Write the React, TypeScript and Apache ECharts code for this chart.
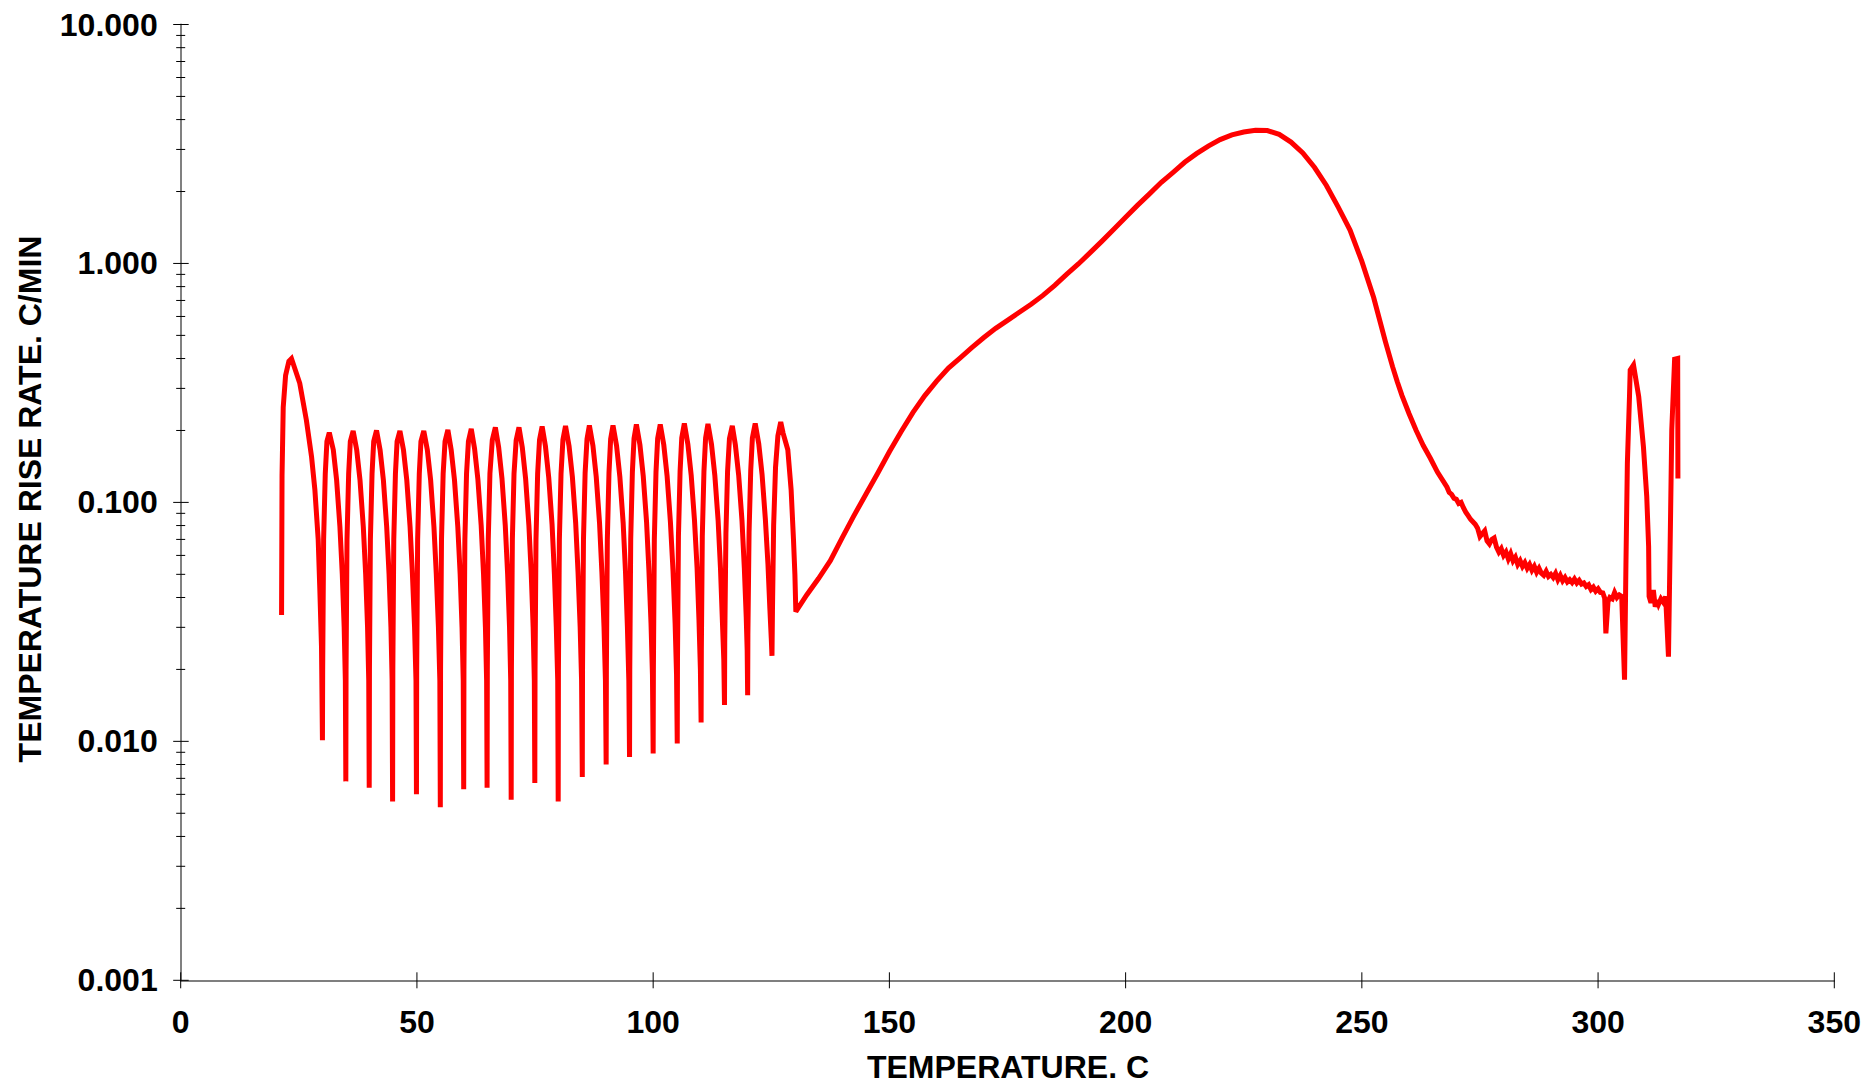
import React, { useEffect, useRef } from "react";
import * as echarts from "echarts";

// ---------- data (temperature °C, rise rate °C/min) ----------
const firstCycle: [number, number][] = [
  [21.35, 0.0338], [21.45, 0.13], [21.7, 0.25], [22.2, 0.34], [22.9, 0.39], [23.45, 0.4],
  [25.2, 0.315], [26.6, 0.221], [27.7, 0.155], [28.4, 0.113], [29.1, 0.07], [29.45, 0.043], [29.8, 0.025],
];

const hwsCycles: [number, number][] = [
  [30.0, 0.0101], [30.05, 0.02], [30.25, 0.07], [30.6, 0.132], [30.95, 0.18], [31.45, 0.196], [32.3, 0.166], [33.0, 0.124], [33.7, 0.079], [34.2, 0.05], [34.6, 0.03], [34.85, 0.018],
  [34.95, 0.0068], [35.0, 0.02], [35.2, 0.07], [35.55, 0.132], [35.9, 0.18], [36.5, 0.199], [37.25, 0.166], [37.95, 0.124], [38.65, 0.079], [39.15, 0.05], [39.55, 0.03], [39.8, 0.018],
  [39.9, 0.0064], [39.95, 0.02], [40.15, 0.07], [40.5, 0.132], [40.85, 0.18], [41.45, 0.2], [42.2, 0.166], [42.9, 0.124], [43.6, 0.079], [44.1, 0.05], [44.5, 0.03], [44.75, 0.018],
  [44.85, 0.0056], [44.9, 0.02], [45.1, 0.07], [45.45, 0.132], [45.8, 0.18], [46.4, 0.199], [47.15, 0.166], [47.85, 0.124], [48.55, 0.079], [49.05, 0.05], [49.5, 0.03], [49.8, 0.018],
  [49.9, 0.006], [49.95, 0.02], [50.15, 0.07], [50.5, 0.132], [50.85, 0.18], [51.45, 0.199], [52.2, 0.166], [52.9, 0.124], [53.6, 0.079], [54.1, 0.05], [54.55, 0.03], [54.85, 0.018],
  [54.95, 0.0053], [55.0, 0.02], [55.2, 0.07], [55.55, 0.132], [55.95, 0.18], [56.55, 0.201], [57.25, 0.166], [57.95, 0.124], [58.65, 0.079], [59.15, 0.05], [59.55, 0.03], [59.8, 0.018],
  [59.9, 0.0063], [59.95, 0.02], [60.15, 0.07], [60.5, 0.132], [60.9, 0.18], [61.5, 0.203], [62.2, 0.168], [62.9, 0.125], [63.6, 0.08], [64.1, 0.05], [64.5, 0.03], [64.75, 0.018],
  [64.85, 0.0064], [64.9, 0.02], [65.1, 0.07], [65.45, 0.132], [65.95, 0.182], [66.6, 0.206], [67.3, 0.17], [68.0, 0.126], [68.7, 0.08], [69.2, 0.05], [69.6, 0.03], [69.85, 0.018],
  [69.95, 0.0057], [70.0, 0.02], [70.2, 0.07], [70.55, 0.132], [71.0, 0.182], [71.6, 0.206], [72.3, 0.17], [73.0, 0.126], [73.7, 0.08], [74.2, 0.05], [74.6, 0.03], [74.85, 0.018],
  [74.95, 0.0067], [75.0, 0.02], [75.2, 0.07], [75.55, 0.132], [75.95, 0.183], [76.5, 0.208], [77.2, 0.172], [77.9, 0.127], [78.6, 0.081], [79.1, 0.05], [79.5, 0.03], [79.8, 0.018],
  [79.9, 0.0056], [79.95, 0.02], [80.15, 0.07], [80.5, 0.132], [80.9, 0.183], [81.45, 0.209], [82.2, 0.172], [82.9, 0.128], [83.6, 0.082], [84.1, 0.051], [84.55, 0.03], [84.85, 0.018],
  [85.0, 0.0071], [85.05, 0.02], [85.25, 0.07], [85.6, 0.133], [86.0, 0.184], [86.5, 0.21], [87.25, 0.173], [87.95, 0.128], [88.65, 0.082], [89.15, 0.051], [89.6, 0.03], [89.9, 0.018],
  [90.05, 0.008], [90.1, 0.02], [90.3, 0.07], [90.65, 0.133], [91.0, 0.184], [91.5, 0.21], [92.25, 0.173], [92.95, 0.128], [93.65, 0.082], [94.15, 0.051], [94.55, 0.03], [94.85, 0.018],
  [95.0, 0.0086], [95.05, 0.02], [95.25, 0.07], [95.6, 0.134], [95.95, 0.185], [96.45, 0.212], [97.2, 0.174], [97.9, 0.129], [98.6, 0.083], [99.1, 0.052], [99.55, 0.031], [99.85, 0.019],
  [100.0, 0.0089], [100.05, 0.02], [100.25, 0.07], [100.6, 0.134], [100.95, 0.185], [101.5, 0.212], [102.25, 0.174], [102.95, 0.129], [103.65, 0.083], [104.2, 0.052], [104.65, 0.031], [104.95, 0.019],
  [105.1, 0.0098], [105.15, 0.022], [105.35, 0.072], [105.7, 0.135], [106.05, 0.186], [106.6, 0.214], [107.35, 0.175], [108.05, 0.13], [108.75, 0.084], [109.3, 0.053], [109.7, 0.032], [110.0, 0.02],
  [110.15, 0.012], [110.2, 0.024], [110.4, 0.072], [110.75, 0.135], [111.1, 0.186], [111.6, 0.213], [112.35, 0.175], [113.05, 0.13], [113.75, 0.084], [114.25, 0.053], [114.65, 0.032], [114.95, 0.022],
  [115.1, 0.0142], [115.15, 0.026], [115.4, 0.074], [115.75, 0.135], [116.15, 0.185], [116.75, 0.209], [117.4, 0.174], [118.1, 0.13], [118.8, 0.084], [119.3, 0.053], [119.7, 0.033], [119.9, 0.024],
  [120.0, 0.0156], [120.05, 0.028], [120.3, 0.075], [120.65, 0.136], [121.0, 0.186], [121.6, 0.214], [122.35, 0.176], [123.05, 0.131], [123.75, 0.085], [124.3, 0.055], [124.7, 0.036], [125.0, 0.027],
  [125.15, 0.0228], [125.25, 0.035], [125.5, 0.08], [125.9, 0.14], [126.4, 0.19], [127.0, 0.217], [127.5, 0.195], [128.5, 0.166], [129.2, 0.113], [129.7, 0.07], [130.0, 0.05], [130.2, 0.0349],
];

const exothermData: [number, number][] = [
  [132.5, 0.041], [135, 0.048], [137.5, 0.057], [140, 0.071], [142.5, 0.088], [145, 0.108], [147.5, 0.132],
  [150, 0.163], [152.5, 0.198], [155, 0.238], [157.5, 0.28], [160, 0.322], [162.5, 0.365], [165, 0.403],
  [167.5, 0.445], [170, 0.49], [172.5, 0.535], [175, 0.578], [177.5, 0.625], [180, 0.675], [182.5, 0.735],
  [185, 0.81], [187.5, 0.9], [190, 0.995], [192.5, 1.11], [195, 1.24], [197.5, 1.39], [200, 1.56],
  [202.5, 1.75], [205, 1.95], [207.5, 2.18], [210, 2.4], [212.5, 2.65], [215, 2.88], [217.5, 3.1],
  [220, 3.3], [222.5, 3.45], [225, 3.55], [227.5, 3.61], [230, 3.6], [232.5, 3.47], [235, 3.22],
  [237.5, 2.9], [240, 2.52], [242.5, 2.12], [245, 1.72], [247.5, 1.38], [250, 1.02], [252.5, 0.72],
  [255, 0.47], [256.5, 0.37], [257.5, 0.32], [258.5, 0.28], [260, 0.235], [261.5, 0.2], [263, 0.173],
  [264.5, 0.153], [266, 0.134],
];

const tailData: [number, number][] = [
  [268.0, 0.116], [268.5, 0.11], [269.0, 0.108], [269.5, 0.104], [270.0, 0.103], [270.5, 0.099], [271.0, 0.1],
  [271.5, 0.095], [272.0, 0.091], [272.5, 0.088], [273.0, 0.085], [273.5, 0.083], [274.0, 0.081], [274.5, 0.078],
  [275.0, 0.072], [275.5, 0.074], [276.0, 0.076], [276.5, 0.069], [277.0, 0.067], [277.5, 0.07], [278.0, 0.071],
  [278.5, 0.065], [279.0, 0.062], [279.5, 0.064], [280.0, 0.06], [280.5, 0.062], [281.0, 0.058], [281.5, 0.061],
  [282.0, 0.057], [282.5, 0.059], [283.0, 0.055], [283.5, 0.057], [284.0, 0.054], [284.5, 0.056], [285.0, 0.053],
  [285.5, 0.055], [286.0, 0.052], [286.5, 0.054], [287.0, 0.051], [287.5, 0.053], [288.0, 0.0505], [288.5, 0.0495],
  [289.0, 0.0515], [289.5, 0.049], [290.0, 0.05], [290.5, 0.0485], [291.0, 0.0505], [291.5, 0.0475], [292.0, 0.0495],
  [292.5, 0.047], [293.0, 0.0485], [293.5, 0.0465], [294.0, 0.0475], [294.5, 0.0462], [295.0, 0.0478], [295.5, 0.046],
  [296.0, 0.0472], [296.5, 0.0455], [297.0, 0.046], [297.5, 0.0445], [298.0, 0.0452], [298.5, 0.0432], [299.0, 0.0442],
  [299.5, 0.0425], [300.0, 0.0435], [300.5, 0.042], [301.0, 0.0418], [301.4, 0.0397], [301.65, 0.0283], [302.1, 0.0384],
  [302.5, 0.04], [303.0, 0.0395], [303.5, 0.042], [304.0, 0.04], [304.5, 0.041], [305.0, 0.0404],
  [305.6, 0.0181], [305.9, 0.0556], [306.2, 0.146], [306.65, 0.277], [306.8, 0.358], [307.5, 0.376], [308.6, 0.277],
  [309.6, 0.171], [310.3, 0.106], [310.7, 0.0653], [310.8, 0.0404], [311.2, 0.038], [311.7, 0.043], [312.1, 0.0366],
  [312.5, 0.039], [312.8, 0.0375], [313.3, 0.0395], [313.9, 0.038], [314.3, 0.0404], [314.9, 0.0226], [315.3, 0.0767],
  [315.6, 0.201], [316.2, 0.397], [316.85, 0.4], [316.9, 0.126],
];

const xTickValues = [0, 50, 100, 150, 200, 250, 300, 350];
const yMajorValues = [0.001, 0.01, 0.1, 1, 10];
const yMinorMultipliers = [2, 3, 4, 5, 6, 7, 8, 9];

const xTitle = "TEMPERATURE. C";
const yTitle = "TEMPERATURE RISE RATE. C/MIN";

const FONT = '"Liberation Sans", Arial, sans-serif';

export default function App() {
  const ref = useRef<HTMLDivElement>(null);

  useEffect(() => {
    if (!ref.current) return;
    const chart = echarts.init(ref.current, undefined, { renderer: "svg" });

    const lineData = [...firstCycle, ...hwsCycles, ...exothermData, ...tailData];

    const yTicks: [number, number, number][] = [];
    yMajorValues.forEach((d, i) => {
      yTicks.push([0, d, 1]);
      if (i < yMajorValues.length - 1) {
        yMinorMultipliers.forEach((m) => yTicks.push([0, +(d * m).toPrecision(3), 0]));
      }
    });
    const xTicks: [number, number][] = xTickValues.map((v) => [v, 0.001]);

    const option: any = {
      animation: false,
      backgroundColor: "#fff",
      grid: { left: 180.7, top: 24.5, width: 1655.3, height: 955.8, containLabel: false },
      xAxis: {
        type: "value",
        min: 0,
        max: 350,
        interval: 50,
        axisLine: { show: true, lineStyle: { color: "#555", width: 1.5 } },
        axisTick: { show: false },
        splitLine: { show: false },
        axisLabel: {
          show: true,
          margin: 26,
          color: "#000",
          fontFamily: FONT,
          fontWeight: "bold",
          fontSize: 32,
          showMinLabel: true,
          showMaxLabel: true,
        },
      },
      yAxis: {
        type: "log",
        logBase: 10,
        min: 0.001,
        max: 10,
        axisLine: { show: true, lineStyle: { color: "#808080", width: 2 } },
        axisTick: { show: false },
        minorTick: { show: false },
        splitLine: { show: false },
        axisLabel: {
          show: true,
          margin: 23,
          color: "#000",
          fontFamily: FONT,
          fontWeight: "bold",
          fontSize: 32,
          formatter: (v: number) => Number(v).toFixed(3),
        },
      },
      series: [
        {
          type: "custom",
          data: yTicks,
          clip: false,
          silent: true,
          z: 1,
          renderItem: (params: any, api: any) => {
            const p = api.coord([api.value(0), api.value(1)]);
            const major = api.value(2) === 1;
            return {
              type: "line",
              shape: { x1: p[0] - (major ? 7.5 : 4.5), y1: p[1], x2: p[0] + (major ? 8 : 4.5), y2: p[1] },
              style: { stroke: "#000", lineWidth: 1 },
            };
          },
        },
        {
          type: "custom",
          data: xTicks,
          clip: false,
          silent: true,
          z: 1,
          renderItem: (params: any, api: any) => {
            const p = api.coord([api.value(0), api.value(1)]);
            return {
              type: "line",
              shape: { x1: p[0], y1: p[1] - 8, x2: p[0], y2: p[1] + 8 },
              style: { stroke: "#000", lineWidth: 1 },
            };
          },
        },
        {
          type: "line",
          data: lineData,
          showSymbol: false,
          symbol: "none",
          clip: false,
          z: 3,
          lineStyle: { color: "#ff0000", width: 5, join: "miter", miterLimit: 3 },
        },
      ],
      graphic: [
        {
          type: "text",
          x: 1008,
          y: 1067,
          style: {
            text: xTitle,
            fill: "#000",
            font: `bold 32px ${FONT}`,
            align: "center",
            verticalAlign: "middle",
          },
        },
        {
          type: "text",
          x: 30,
          y: 499,
          rotation: Math.PI / 2,
          style: {
            text: yTitle,
            fill: "#000",
            font: `bold 32px ${FONT}`,
            align: "center",
            verticalAlign: "middle",
          },
        },
      ],
    };

    chart.setOption(option);
    return () => chart.dispose();
  }, []);

  return (
    <div
      ref={ref}
      style={{ position: "fixed", left: 0, top: 0, width: 1864, height: 1086, background: "#fff" }}
    />
  );
}
